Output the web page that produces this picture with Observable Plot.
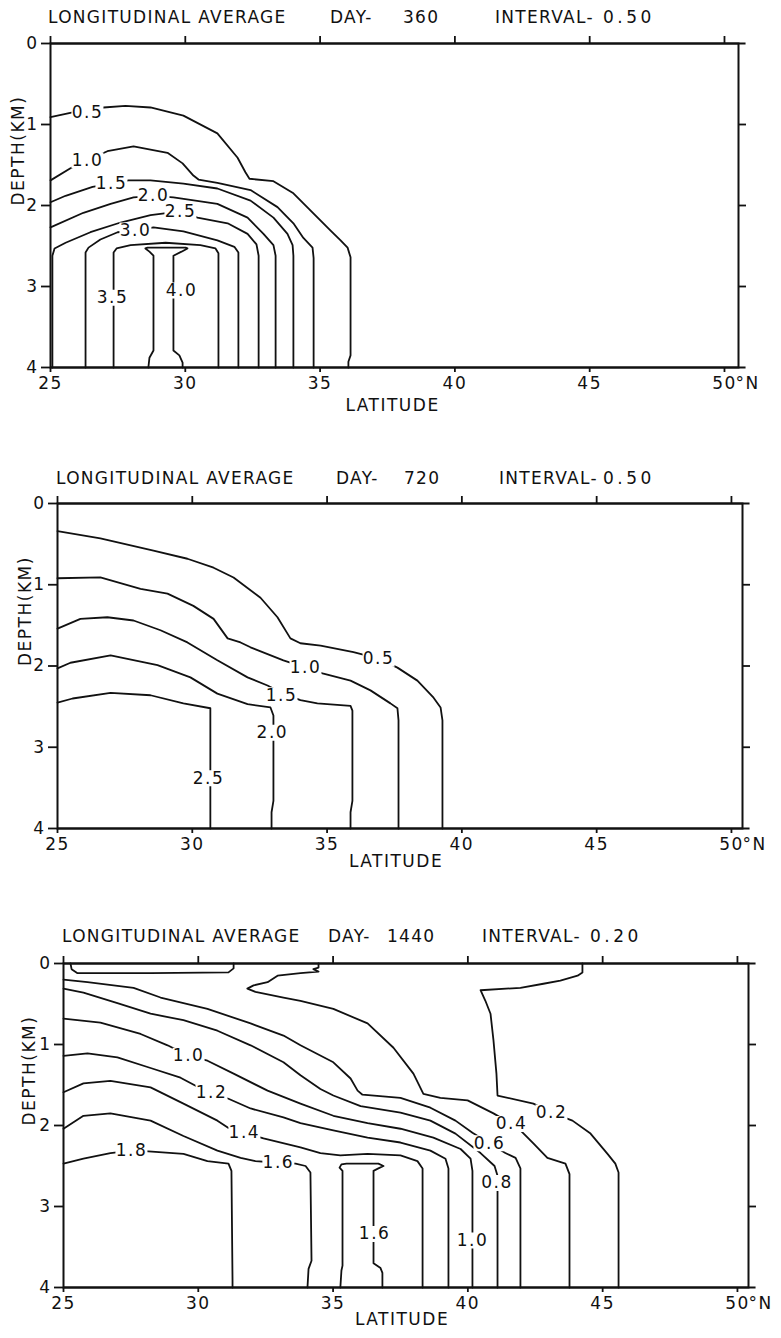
<!DOCTYPE html>
<html><head><meta charset="utf-8">
<script src="https://cdn.jsdelivr.net/npm/d3@7"></script>
<script src="https://cdn.jsdelivr.net/npm/@observablehq/plot@0.6"></script>
<style>
body{margin:0;background:#fff;}
#page{position:relative;width:781px;height:1338px;overflow:hidden;background:#fff;font-family:"DejaVu Sans",sans-serif;color:#111;}
.panel{position:absolute;left:0;}
.t{position:absolute;font-size:17px;letter-spacing:1.3px;white-space:pre;line-height:1;color:#111;}
#page svg text{letter-spacing:1.5px;}
</style></head><body><div id="page"></div>
<script>
// ---------- axis ticks ----------
const LAT_TICKS = [25, 30, 35, 40, 45, 50];
const DEPTH_TICKS = [0, 1, 2, 3, 4];
const RIGHT_TICKS = [1, 2, 3];

// ---------- Panel 1 : DAY 360, interval 0.50  ([latitude, depth km]) ----------
const P1_05 = [[25.00,0.91],[25.82,0.85],[26.97,0.79],[27.78,0.77],[28.71,0.79],[29.93,0.89],[31.19,1.11],[31.94,1.41],[32.23,1.59],[32.38,1.67],[33.27,1.70],[34.01,1.85],[34.64,2.06],[35.39,2.31],[35.76,2.43],[36.02,2.52],[36.13,2.64],[36.13,3.85],[36.05,3.93],[36.05,4.0]];
const P1_10 = [[25,1.69],[25.74,1.54],[26.37,1.44],[27.11,1.33],[28.08,1.27],[29.34,1.35],[29.90,1.48],[30.30,1.63],[30.49,1.68],[31.19,1.72],[32.42,1.81],[33.42,2.02],[34.01,2.22],[34.38,2.40],[34.72,2.52],[34.76,2.65],[34.76,4.0]];
const P1_15 = [[25,1.96],[25.56,1.88],[26.56,1.77],[27.26,1.73],[27.89,1.69],[28.71,1.69],[29.93,1.73],[31.19,1.79],[32.42,1.94],[33.27,2.15],[33.79,2.35],[33.98,2.49],[34.01,2.62],[34.01,4.0]];
const P1_20 = [[25,2.27],[26.22,2.09],[27.23,1.98],[28.08,1.90],[28.82,1.88],[29.56,1.90],[31.19,1.98],[32.31,2.15],[32.90,2.35],[33.27,2.49],[33.35,2.62],[33.35,4.0]];
const P1_25 = [[25.07,4.0],[25.07,2.62],[25.15,2.53],[25.56,2.46],[26.48,2.33],[27.60,2.21],[28.71,2.12],[29.15,2.10],[29.82,2.07],[30.45,2.15],[31.57,2.22],[32.31,2.35],[32.64,2.48],[32.72,2.62],[32.72,4.0]];
const P1_30 = [[26.30,4.0],[26.30,2.58],[26.41,2.52],[26.85,2.42],[27.49,2.33],[28.15,2.31],[28.82,2.27],[29.93,2.32],[31.19,2.43],[31.82,2.51],[31.97,2.58],[31.97,4.0]];
const P1_35 = [[27.34,4.0],[27.34,2.58],[27.45,2.53],[27.97,2.49],[29.27,2.46],[30.56,2.49],[31.12,2.53],[31.23,2.59],[31.23,4.0]];
const P1_40 = [[28.63,4.0],[28.67,3.88],[28.82,3.79],[28.82,2.62],[28.67,2.57],[28.52,2.53],[28.60,2.52],[30.01,2.52],[30.08,2.53],[29.86,2.57],[29.56,2.62],[29.56,3.79],[29.78,3.85],[29.90,3.94],[29.90,4.0]];
const P1_LABELS = [
  {v:"0.5",lat:26.37,depth:0.85},{v:"1.0",lat:26.37,depth:1.44},{v:"1.5",lat:27.26,depth:1.73},
  {v:"2.0",lat:28.82,depth:1.88},{v:"2.5",lat:29.82,depth:2.07},{v:"3.0",lat:28.15,depth:2.31},
  {v:"3.5",lat:27.30,depth:3.14},{v:"4.0",lat:29.86,depth:3.05}];

// ---------- Panel 2 : DAY 720, interval 0.50 ----------
const P2_05 = [[25,0.34],[26.59,0.43],[28.56,0.58],[29.82,0.68],[30.79,0.79],[31.53,0.91],[32.53,1.16],[33.16,1.40],[33.64,1.66],[34.01,1.72],[34.76,1.75],[35.98,1.83],[36.91,1.91],[37.61,2.02],[38.35,2.18],[38.95,2.39],[39.21,2.51],[39.28,2.67],[39.28,4.0]];
const P2_10 = [[25,0.92],[26.59,0.91],[28.08,1.05],[29.08,1.11],[30.04,1.26],[30.79,1.42],[31.31,1.66],[31.79,1.71],[32.16,1.77],[33.38,1.93],[34.20,2.02],[34.83,2.09],[35.87,2.18],[36.61,2.30],[37.35,2.46],[37.61,2.52],[37.65,2.67],[37.65,4.0]];
const P2_15 = [[25,1.54],[25.85,1.42],[26.85,1.40],[27.82,1.44],[28.82,1.56],[29.82,1.71],[30.93,1.93],[32.05,2.14],[32.79,2.24],[33.31,2.33],[34.01,2.42],[34.64,2.46],[35.87,2.49],[35.94,2.55],[35.94,3.66],[35.87,3.80],[35.87,4.0]];
const P2_20 = [[25,2.03],[25.48,1.96],[26.97,1.87],[28.71,1.99],[29.93,2.14],[30.93,2.34],[32.05,2.47],[32.90,2.51],[33.01,2.61],[33.01,3.66],[32.94,3.80],[32.94,4.0]];
const P2_25 = [[25,2.45],[25.56,2.40],[26.97,2.33],[28.45,2.36],[29.67,2.46],[30.67,2.52],[30.67,2.67],[30.67,4.0]];
const P2_LABELS = [
  {v:"0.5",lat:36.91,depth:1.91},{v:"1.0",lat:34.20,depth:2.02},{v:"1.5",lat:33.31,depth:2.36},
  {v:"2.0",lat:32.97,depth:2.82},{v:"2.5",lat:30.60,depth:3.38}];

// ---------- Panel 3 : DAY 1440, interval 0.20 ----------
const P3_SURF = [[25.26,0],[25.30,0.07],[25.52,0.12],[28.23,0.12],[31.12,0.11],[31.31,0.06],[31.31,0]];
const P3_02 = [[44.25,0],[44.25,0.11],[44.07,0.15],[43.43,0.21],[42.80,0.25],[41.95,0.30],[40.47,0.33],[40.65,0.46],[40.84,0.62],[40.95,0.95],[41.06,1.36],[41.10,1.63],[42.43,1.73],[43.10,1.84],[43.88,1.94],[44.55,2.10],[45.18,2.35],[45.47,2.47],[45.59,2.58],[45.59,4.0]];
const P3_04 = [[34.46,0],[34.46,0.05],[34.27,0.07],[34.46,0.10],[33.79,0.12],[32.94,0.15],[32.57,0.23],[32.05,0.27],[31.82,0.31],[32.12,0.35],[33.16,0.42],[33.79,0.46],[35.01,0.56],[36.28,0.74],[37.24,1.04],[37.98,1.36],[38.35,1.61],[38.98,1.66],[39.99,1.69],[40.95,1.85],[41.62,1.98],[41.95,2.06],[42.43,2.22],[42.95,2.40],[43.62,2.47],[43.77,2.60],[43.77,4.0]];
const P3_06 = [[25,0.20],[25.89,0.23],[27.60,0.30],[28.60,0.42],[30.34,0.56],[31.94,0.74],[33.16,0.89],[33.79,1.01],[35.01,1.22],[35.65,1.42],[35.91,1.57],[36.09,1.62],[37.50,1.66],[38.61,1.78],[39.54,1.94],[40.17,2.09],[40.80,2.22],[41.39,2.34],[41.77,2.40],[41.95,2.53],[41.95,4.0]];
const P3_08 = [[25,0.31],[25.74,0.36],[27.00,0.49],[28.23,0.62],[29.45,0.70],[30.71,0.83],[31.94,1.01],[33.16,1.22],[33.79,1.38],[34.53,1.55],[35.01,1.63],[36.02,1.76],[37.50,1.84],[38.61,1.94],[39.54,2.10],[40.47,2.34],[40.99,2.50],[41.10,2.62],[41.10,4.0]];
const P3_10 = [[25,0.68],[26.37,0.73],[27.86,0.87],[28.86,1.01],[29.64,1.14],[30.34,1.20],[31.31,1.36],[32.57,1.57],[33.79,1.73],[35.01,1.88],[36.28,1.97],[37.50,2.04],[38.72,2.15],[39.73,2.29],[40.10,2.41],[40.17,2.56],[40.17,4.0]];
const P3_12 = [[25,1.14],[25.89,1.11],[27.00,1.16],[28.23,1.29],[29.34,1.41],[29.90,1.51],[30.49,1.59],[31.12,1.67],[31.94,1.79],[33.16,1.90],[33.79,1.97],[35.01,2.06],[36.28,2.15],[37.50,2.21],[38.61,2.31],[39.17,2.41],[39.28,2.53],[39.28,4.0]];
const P3_14 = [[25,1.59],[25.74,1.48],[26.74,1.45],[28.23,1.53],[29.45,1.73],[30.71,1.94],[31.12,2.03],[31.71,2.09],[32.42,2.16],[33.79,2.27],[34.53,2.34],[35.27,2.37],[36.28,2.35],[37.50,2.37],[38.13,2.44],[38.32,2.53],[38.32,4.0]];
const P3_16 = [[25,2.04],[25.74,1.88],[26.74,1.85],[28.23,1.94],[29.45,2.13],[30.71,2.31],[31.57,2.40],[32.12,2.44],[32.97,2.46],[33.61,2.47],[33.98,2.50],[34.16,2.58],[34.20,3.67],[34.09,3.77],[34.05,4.0]];
const P3_16B = [[35.27,4.0],[35.31,3.79],[35.35,3.73],[35.35,2.56],[35.24,2.52],[35.31,2.48],[35.50,2.47],[36.68,2.47],[36.87,2.50],[36.68,2.53],[36.50,2.56],[36.50,3.70],[36.76,3.76],[36.83,3.82],[36.83,4.0]];
const P3_18 = [[25,2.47],[25.74,2.41],[26.74,2.34],[27.52,2.31],[28.15,2.32],[29.45,2.35],[30.34,2.44],[31.12,2.47],[31.23,2.56],[31.27,3.92],[31.27,4.0]];
const P3_LABELS = [
  {v:"0.2",lat:43.10,depth:1.84},{v:"0.4",lat:41.62,depth:1.98},{v:"0.6",lat:40.80,depth:2.22},
  {v:"0.8",lat:41.08,depth:2.71},{v:"1.0",lat:29.64,depth:1.14},{v:"1.0",lat:40.17,depth:3.42},
  {v:"1.2",lat:30.49,depth:1.59},{v:"1.4",lat:31.71,depth:2.09},{v:"1.6",lat:32.97,depth:2.46},
  {v:"1.6",lat:36.54,depth:3.34},{v:"1.8",lat:27.52,depth:2.31}];

const panels = [
  {top:0, ml:50, mr:43, xmax:50.52, mb:60, plotH:324, latDy:43, latDx:-2, yDx:-32, titleTop:9,
   title:[["LONGITUDINAL AVERAGE",48,1.3],["DAY-",330,1.3],["360",403,1.3],["INTERVAL-",495,1.3],["0.50",603,3.5]],
   contours:[P1_05,P1_10,P1_15,P1_20,P1_25,P1_30,P1_35,P1_40], labels:P1_LABELS},
  {top:460, ml:57, mr:39, xmax:50.41, mb:60, plotH:325, latDy:38, latDx:-4, yDx:-32, titleTop:470,
   title:[["LONGITUDINAL AVERAGE",56,1.3],["DAY-",336,1.3],["720",404,1.3],["INTERVAL-",499,1.3],["0.50",603,3.5]],
   contours:[P2_05,P2_10,P2_15,P2_20,P2_25], labels:P2_LABELS},
  {top:920, ml:63, mr:33, xmax:50.41, mb:51, plotH:324, latDy:37, latDx:-4, yDx:-34, titleTop:928,
   title:[["LONGITUDINAL AVERAGE",62,1.3],["DAY-",328,1.3],["1440",387,1.3],["INTERVAL-",482,1.3],["0.20",590,3.5]],
   contours:[P3_SURF,P3_02,P3_04,P3_06,P3_08,P3_10,P3_12,P3_14,P3_16,P3_16B,P3_18], labels:P3_LABELS}
];

const page = document.getElementById("page");
const INK = "#111";
// white box drawn under each contour label so the line is broken there
const labelBox = {draw(context) { context.rect(-16, -8, 32, 16); }};

panels.forEach(p => {
  const rows = p.contours.flatMap((c, i) => c.map(([lat, depth]) => ({lat, depth, key: i})));
  const mt = 43;
  const svg = Plot.plot({
    width: 781,
    height: mt + p.plotH + p.mb,
    marginLeft: p.ml, marginRight: p.mr, marginTop: mt, marginBottom: p.mb,
    style: {fontFamily: '"DejaVu Sans", sans-serif', fontSize: "17px", color: INK, background: "transparent", overflow: "visible"},
    x: {domain: [25, p.xmax]},
    y: {domain: [0, 4], reverse: true},
    marks: [
      Plot.line(rows, {x: "lat", y: "depth", z: "key", stroke: INK, strokeWidth: 1.8, strokeLinejoin: "round"}),
      Plot.dot(p.labels, {x: "lat", y: "depth", symbol: labelBox, r: 5, fill: "white", stroke: "none"}),
      Plot.text(p.labels, {x: "lat", y: "depth", text: "v", fill: INK, fontSize: 17}),
      Plot.frame({stroke: INK, strokeWidth: 2}),
      Plot.ruleY([0, 4], {x1: 25, x2: p.xmax + 0.28, stroke: INK, strokeWidth: 2}),
      Plot.axisX({anchor: "bottom", ticks: LAT_TICKS, tickSize: 5, tickPadding: 4, tickFormat: d => String(d), label: null, strokeWidth: 1.8}),
      Plot.axisX({anchor: "top", ticks: LAT_TICKS, tickSize: 8, tickFormat: () => "", label: null, strokeWidth: 1.8}),
      Plot.axisY({anchor: "left", ticks: DEPTH_TICKS, tickSize: 9, tickPadding: 3, tickFormat: d => String(d), label: null, strokeWidth: 1.8}),
      Plot.axisY({anchor: "right", ticks: RIGHT_TICKS, tickSize: 7, tickFormat: () => "", label: null, strokeWidth: 1.8}),
      Plot.text([50], {x: d => d, frameAnchor: "bottom", dy: 9, dx: 11, lineAnchor: "top", textAnchor: "start", text: () => "°N", fill: INK}),
      Plot.text(["LATITUDE"], {frameAnchor: "bottom", dy: p.latDy, dx: p.latDx, text: d => d, fill: INK}),
      Plot.text(["DEPTH(KM)"], {frameAnchor: "left", dx: p.yDx, rotate: -90, text: d => d, fill: INK})
    ]
  });
  svg.classList.add("panel");
  svg.style.top = p.top + "px";
  page.appendChild(svg);
  p.title.forEach(([txt, x, ls]) => {
    const d = document.createElement("div");
    d.className = "t";
    d.textContent = txt;
    d.style.left = x + "px";
    d.style.top = p.titleTop + "px";
    d.style.letterSpacing = ls + "px";
    page.appendChild(d);
  });
});
</script>
</body></html>
